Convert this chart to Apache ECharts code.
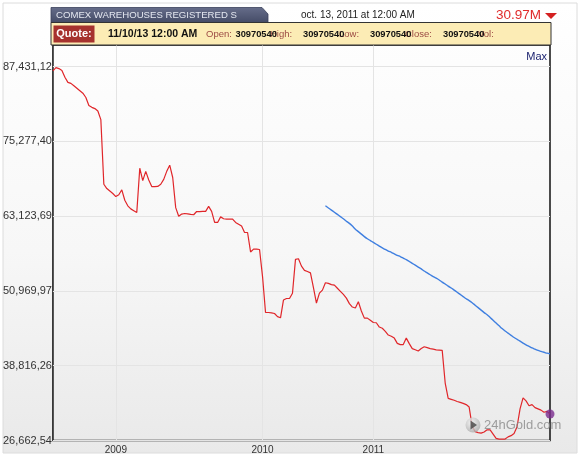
<!DOCTYPE html>
<html><head><meta charset="utf-8">
<script src="https://cdn.jsdelivr.net/npm/echarts@6/dist/echarts.min.js"></script>
<style>html,body{margin:0;padding:0;background:#fff}#c{width:582px;height:458px}</style>
</head><body><div id="c"></div>
<script>
// Red series: registered stocks (millions of oz), uniformly sampled
const redValues = [
 86.73, 87.25, 87.1, 86.8, 85.7, 84.85, 84.7, 84.3, 83.9, 83.5,
 83.1, 82.4, 81.1, 80.8, 80.6, 80.2, 78.8, 68.3, 67.6, 67.2,
 66.8, 66.3, 66.6, 67.4, 65.7, 64.8, 64.3, 64.0, 63.7, 70.9,
 68.9, 70.4, 69.0, 67.93, 67.93, 67.95, 68.3, 69.1, 70.4, 71.4,
 69.4, 64.5, 63.1, 63.45, 63.55, 63.5, 63.4, 63.35, 63.87, 63.85,
 63.9, 63.9, 64.7, 63.9, 62.1, 62.1, 63.0, 62.7, 62.63, 62.63,
 62.63, 62.1, 61.8, 61.5, 60.46, 60.46, 57.3, 57.76, 57.76, 57.7,
 53.3, 47.46, 47.46, 47.4, 47.3, 46.8, 46.6, 49.5, 49.74, 49.74,
 50.6, 56.1, 56.2, 55.0, 54.3, 54.12, 53.9, 51.5, 49.0, 50.6,
 51.1, 52.3, 52.2, 52.0, 51.9, 51.4, 50.9, 50.4, 49.8, 48.9,
 48.35, 48.2, 49.2, 47.7, 46.55, 46.55, 46.2, 45.84, 45.8, 45.1,
 44.9, 44.4, 43.8, 43.6, 43.3, 42.45, 42.25, 42.25, 43.3, 42.4,
 41.6, 41.4, 41.2, 41.6, 41.9, 41.75, 41.6, 41.5, 41.4, 41.35,
 41.3, 36.0, 33.5, 33.35, 33.2, 33.0, 32.85, 32.7, 32.5, 32.1,
 29.0, 28.1, 27.95, 27.86, 28.05, 28.4, 28.4, 27.7, 27.0, 26.89,
 26.89, 26.89, 27.25, 27.45, 27.8, 28.9, 31.8, 33.6, 33.1, 32.3,
 32.5, 32.0, 31.8, 31.6, 31.25, 31.4, 30.97
];
// Blue series: moving average, starts at sample blueStart
const blueStart = 91;
const blueValues = [
 64.8, 64.45, 64.1, 63.75, 63.4, 63.05, 62.7, 62.3, 61.95, 61.5,
 61.0, 60.6, 60.2, 59.8, 59.45, 59.15, 58.85, 58.55, 58.25, 57.95,
 57.7, 57.45, 57.25, 57.0, 56.75, 56.55, 56.3, 56.05, 55.75, 55.45,
 55.15, 54.85, 54.55, 54.2, 53.9, 53.6, 53.3, 53.05, 52.75, 52.4,
 52.1, 51.75, 51.45, 51.1, 50.75, 50.4, 50.05, 49.7, 49.4, 49.05,
 48.65, 48.25, 47.85, 47.45, 47.1, 46.65, 46.2, 45.75, 45.3, 44.85,
 44.45, 44.1, 43.75, 43.4, 43.1, 42.8, 42.5, 42.2, 41.95, 41.7,
 41.5, 41.3, 41.15, 41.0, 40.85, 40.75
];
const categories = redValues.map((_, i) => String(i));
const xTickIndex = [21, 70, 107];
const xTickLabels = ['2009', '2010', '2011'];
const yTickValues = [26.6625, 38.8163, 50.9700, 63.1237, 75.2774, 87.4311];
const yTickLabels = ['26,662,54', '38,816,26', '50,969,97', '63,123,69', '75,277,40', '87,431,12'];
const yMin = 26.6625, yMax = 90.93;

const F = 'Liberation Sans, Arial, sans-serif';
const blueData = blueValues.map((v, j) => [categories[blueStart + j], v]);
const last = redValues.length - 1;

function qText(x, text, bold) {
  return {type: 'text', z: bold ? 13 : 12, x: x, y: 34.5,
    style: {text: text, fill: bold ? '#111' : '#9c4a44', font: (bold ? 'bold 9.3px ' : '9.5px ') + F, verticalAlign: 'middle'}};
}

const chart = echarts.init(document.getElementById('c'), null, {renderer: 'canvas'});
chart.setOption({
  animation: false,
  backgroundColor: '#fff',
  grid: {left: 51.5, right: 32, top: 45, bottom: 17.5, show: true,
         borderColor: '#111', borderWidth: 1.5, backgroundColor: 'transparent'},
  xAxis: {
    type: 'category', data: categories, boundaryGap: false,
    axisLine: {show: false}, axisTick: {show: false},
    axisLabel: {
      interval: (i) => xTickIndex.includes(i),
      formatter: (v, i) => { const k = xTickIndex.indexOf(Number(v)); return k >= 0 ? xTickLabels[k] : ''; },
      color: '#333', fontFamily: F, fontSize: 10, margin: 5
    },
    splitLine: {show: true, interval: (i) => xTickIndex.includes(i), lineStyle: {color: '#e4e4e4', width: 1}}
  },
  yAxis: {
    type: 'value', min: yMin, max: yMax,
    axisLine: {show: false},
    axisTick: {show: false, customValues: yTickValues},
    axisLabel: {
      customValues: yTickValues,
      formatter: (v) => { let k = -1; yTickValues.forEach((t, j) => { if (Math.abs(t - v) < 0.01) k = j; }); return k >= 0 ? yTickLabels[k] : ''; },
      color: '#333', fontFamily: F, fontSize: 11, margin: 1, verticalAlign: 'middle', padding: [0, 0, 5, 0]
    },
    splitLine: {show: true, lineStyle: {color: '#e4e4e4', width: 1}}
  },
  graphic: [
    {type: 'rect', z: -100, shape: {x: 3, y: 3, width: 574, height: 450},
     style: {fill: new echarts.graphic.LinearGradient(0, 0, 0, 1, [{offset: 0, color: '#ffffff'}, {offset: 0.55, color: '#f7f7f7'}, {offset: 1, color: '#e9e9e9'}]),
             stroke: '#dcdcdc', lineWidth: 1}},
    {type: 'polygon', z: 10, shape: {points: [[51, 22.5], [51, 7.5], [262, 7.5], [268, 14], [268, 22.5]]},
     style: {fill: new echarts.graphic.LinearGradient(0, 0, 0, 1, [{offset: 0, color: '#666d8a'}, {offset: 1, color: '#444b66'}]), stroke: '#3a405a', lineWidth: 0.8}},
    {type: 'text', z: 11, x: 56, y: 15,
     style: {text: 'COMEX WAREHOUSES REGISTERED S', fill: '#e4e7f0', font: '9.6px ' + F, verticalAlign: 'middle', width: 186, overflow: 'truncate', ellipsis: ''}},
    {type: 'text', z: 11, x: 301, y: 15, style: {text: 'oct. 13, 2011 at 12:00 AM', fill: '#222', font: '10px ' + F, verticalAlign: 'middle'}},
    {type: 'text', z: 11, x: 541, y: 15, style: {text: '30.97M', fill: '#e02b2b', font: '13.5px ' + F, align: 'right', verticalAlign: 'middle'}},
    {type: 'polygon', z: 11, shape: {points: [[545, 13], [557, 13], [551, 19]]}, style: {fill: '#d42020'}},
    {type: 'rect', z: 10, shape: {x: 51, y: 22.5, width: 500, height: 22.5}, style: {fill: '#fcecb5', stroke: '#333', lineWidth: 1}},
    {type: 'rect', z: 11, shape: {x: 53.5, y: 25.5, width: 41, height: 17}, style: {fill: '#a6322e'}},
    {type: 'text', z: 12, x: 74, y: 34, style: {text: 'Quote:', fill: '#fff', font: 'bold 11px ' + F, align: 'center', verticalAlign: 'middle'}},
    {type: 'text', z: 12, x: 108, y: 34.5, style: {text: '11/10/13 12:00 AM', fill: '#111', font: 'bold 10.5px ' + F, verticalAlign: 'middle'}},
    qText(206, 'Open:', false), qText(270, 'High:', false), qText(339, 'Low:', false),
    qText(405, 'Close:', false), qText(478, 'Vol:', false),
    qText(235.5, '30970540', true), qText(303, '30970540', true),
    qText(370, '30970540', true), qText(443, '30970540', true),
    {type: 'text', z: 11, x: 547, y: 57, style: {text: 'Max', fill: '#1d2470', font: '11px ' + F, align: 'right', verticalAlign: 'middle'}},
    {type: 'circle', z: 5, shape: {cx: 473, cy: 425, r: 7.5},
     style: {fill: new echarts.graphic.RadialGradient(0.4, 0.35, 0.7, [{offset: 0, color: '#f4f4f4'}, {offset: 1, color: '#a8a8a8'}]), opacity: 0.8}},
    {type: 'polygon', z: 6, shape: {points: [[470.5, 420.5], [470.5, 429.5], [477, 425]]}, style: {fill: '#444', opacity: 0.8}},
    {type: 'text', z: 5, x: 484, y: 425.5, style: {text: '24hGold.com', fill: '#8e8e8e', font: '13px ' + F, verticalAlign: 'middle', opacity: 0.85}}
  ],
  series: [
    {type: 'line', data: redValues, symbol: 'none', z: 3,
     lineStyle: {color: '#e0262a', width: 1.2}},
    {type: 'line', data: blueData, symbol: 'none', z: 3, smooth: 0.3,
     lineStyle: {color: '#3f7fe0', width: 1.4}},
    {type: 'scatter', data: [[categories[last], redValues[last]]], symbolSize: 9, z: 4,
     itemStyle: {color: '#7a2c8e'}}
  ]
});
</script></body></html>
